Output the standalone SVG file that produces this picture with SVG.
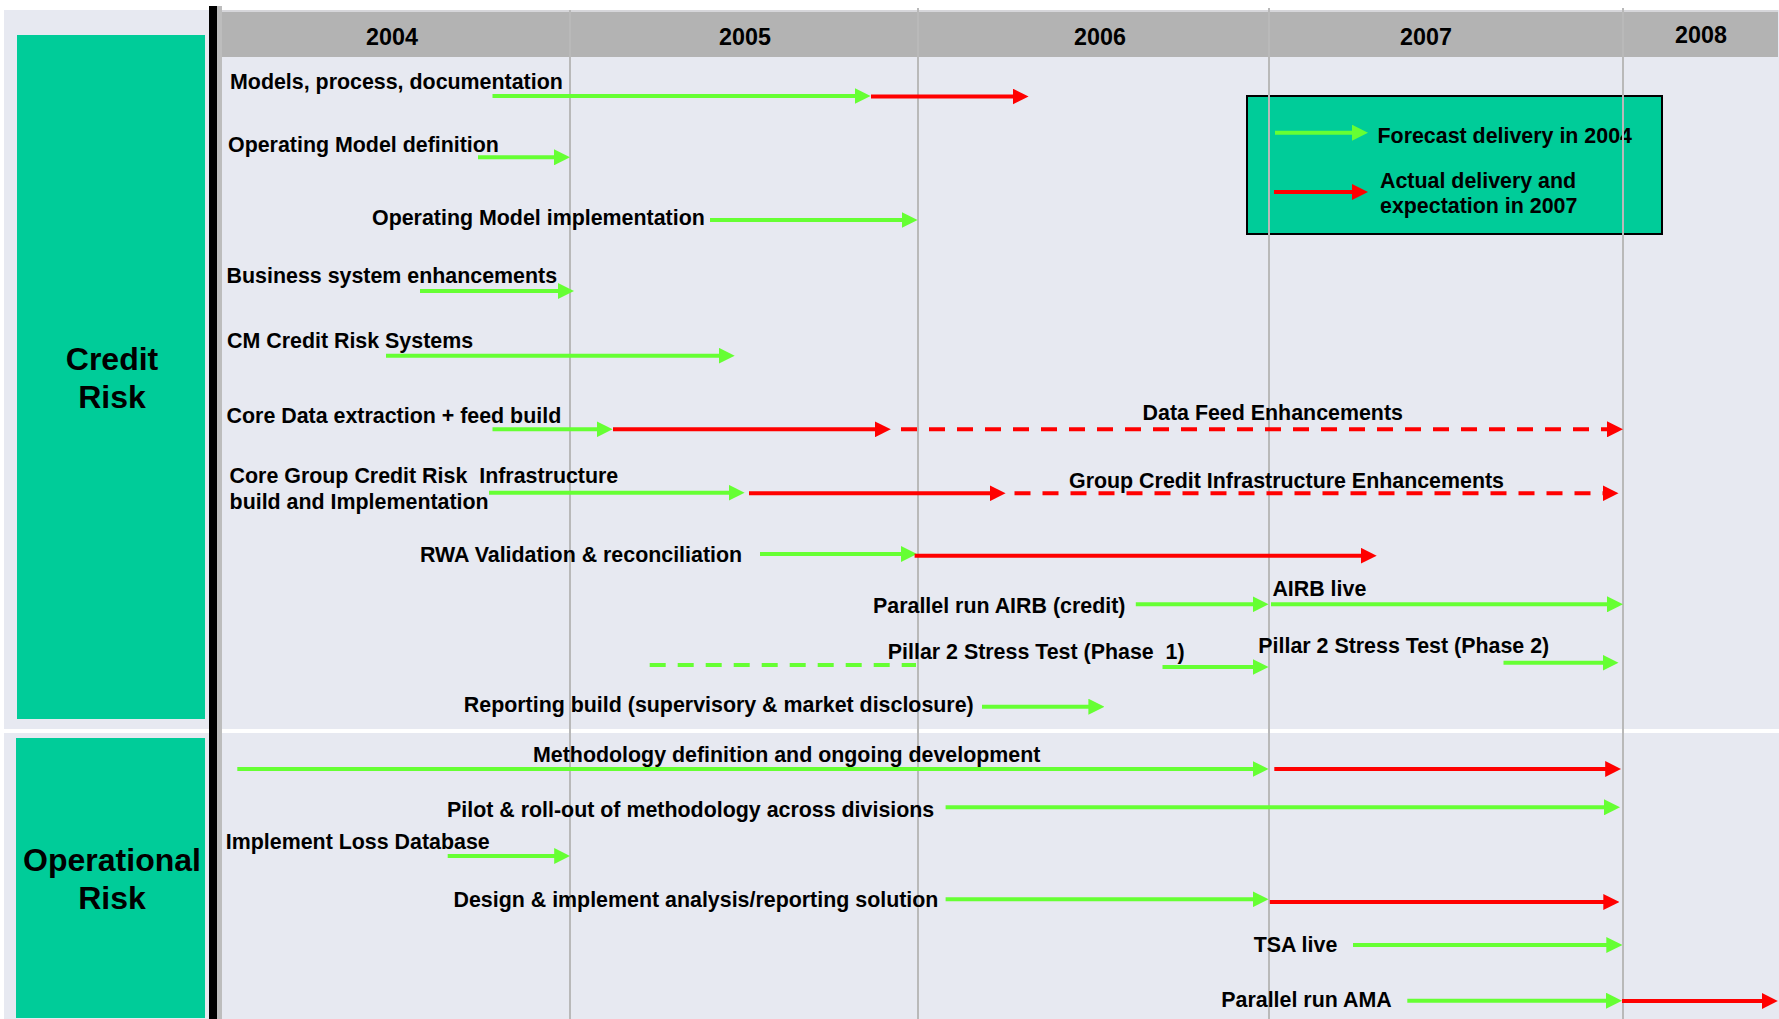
<svg xmlns="http://www.w3.org/2000/svg" width="1779" height="1019" viewBox="0 0 1779 1019">
  <style>
    .t { font-family: "Liberation Sans", Arial, sans-serif; font-weight: bold; fill: #000; }
    .lbl { font-size: 21.4px; white-space: pre; }
    .yr { font-size: 23.3px; text-anchor: middle; }
    .side { font-size: 32px; text-anchor: middle; }
    .grid { stroke: #b9b9b9; stroke-width: 2; }
    .g { stroke: #66ff33; stroke-width: 4; fill: none; }
    .r { stroke: #ff0000; stroke-width: 4; fill: none; }
    .ga { marker-end: url(#headG); }
    .ra { marker-end: url(#headR); }
    .dash { stroke-dasharray: 16 12; }
    .box { fill: #00cc99; }
  </style>
  <defs>
    <marker id="headG" markerUnits="userSpaceOnUse" markerWidth="16" markerHeight="16" viewBox="0 0 16 16" refX="6" refY="8" orient="auto">
      <path d="M0,0 L16,8 L0,16 z" fill="#66ff33"/>
    </marker>
    <marker id="headR" markerUnits="userSpaceOnUse" markerWidth="16" markerHeight="16" viewBox="0 0 16 16" refX="6" refY="8" orient="auto">
      <path d="M0,0 L16,8 L0,16 z" fill="#ff0000"/>
    </marker>
  </defs>

  <!-- page and panels -->
  <rect x="0" y="0" width="1779" height="1019" fill="#ffffff"/>
  <rect x="4" y="10" width="1775" height="1009" fill="#e7e9f1"/>
  <rect x="0" y="729" width="1779" height="4" fill="#ffffff"/>
  <rect x="222" y="10" width="1556" height="2" fill="#d6d6da"/>
  <rect x="222" y="12" width="1556" height="45" fill="#b3b3b3"/>
  <rect x="217" y="6" width="5" height="1013" fill="#bdbdbd"/>
  <rect x="209" y="6" width="8" height="1013" fill="#000000"/>

  <!-- section headers -->
  <g id="credit-risk">
    <rect class="box" x="17" y="35" width="188" height="684"/>
    <text class="t side" x="112" y="370">Credit</text>
    <text class="t side" x="112" y="408">Risk</text>
  </g>
  <g id="operational-risk">
    <rect class="box" x="16" y="738" width="189" height="280"/>
    <text class="t side" x="112" y="871">Operational</text>
    <text class="t side" x="112" y="909">Risk</text>
  </g>

  <!-- year scale -->
  <g id="years">
    <text class="t yr" x="392" y="45">2004</text>
    <text class="t yr" x="745" y="45">2005</text>
    <text class="t yr" x="1100" y="45">2006</text>
    <text class="t yr" x="1426" y="45">2007</text>
    <text class="t yr" x="1701" y="43">2008</text>
  </g>

  <!-- legend -->
  <g id="legend">
    <rect x="1247" y="96" width="415" height="138" fill="#00cc99" stroke="#000" stroke-width="2"/>
    <line class="g ga" x1="1275" y1="132.7" x2="1358" y2="132.7"/>
    <line class="r ra" x1="1274" y1="192" x2="1358" y2="192"/>
    <text class="t lbl" x="1377.5" y="143.3">Forecast delivery in 2004</text>
    <text class="t lbl" x="1380" y="188.3">Actual delivery and</text>
    <text class="t lbl" x="1380" y="213.3">expectation in 2007</text>
  </g>

  <!-- year boundaries -->
  <g id="gridlines">
    <line class="grid" x1="570" y1="10" x2="570" y2="1019"/>
    <line class="grid" x1="918" y1="8" x2="918" y2="1019"/>
    <line class="grid" x1="1269" y1="8" x2="1269" y2="1019"/>
    <line class="grid" x1="1623" y1="8" x2="1623" y2="1019"/>
  </g>

  <!-- work items -->
  <g id="models"><text class="t lbl" x="230" y="89.3">Models, process, documentation</text></g>
  <g id="op-model-def"><text class="t lbl" x="228" y="151.7">Operating Model definition</text></g>
  <g id="op-model-impl"><text class="t lbl" x="372" y="225.3">Operating Model implementation</text></g>
  <g id="business-systems"><text class="t lbl" x="226.6" y="282.7">Business system enhancements</text></g>
  <g id="cm-credit"><text class="t lbl" x="227" y="347.5">CM Credit Risk Systems</text></g>
  <g id="core-data"><text class="t lbl" x="226.6" y="422.7">Core Data extraction + feed build</text></g>
  <g id="data-feed-enh"><text class="t lbl" x="1142.6" y="420">Data Feed Enhancements</text></g>
  <g id="core-group">
    <text class="t lbl" x="229.6" y="483.3">Core Group Credit Risk  Infrastructure</text>
    <text class="t lbl" x="229.6" y="509.3">build and Implementation</text>
  </g>
  <g id="group-infra-enh"><text class="t lbl" x="1069" y="488.3">Group Credit Infrastructure Enhancements</text></g>
  <g id="rwa"><text class="t lbl" x="420" y="561.7">RWA Validation &amp; reconciliation</text></g>
  <g id="parallel-airb"><text class="t lbl" x="873" y="612.7">Parallel run AIRB (credit)</text></g>
  <g id="airb-live"><text class="t lbl" x="1272.4" y="595.7">AIRB live</text></g>
  <g id="pillar2-p1"><text class="t lbl" x="887.8" y="659">Pillar 2 Stress Test (Phase  1)</text></g>
  <g id="pillar2-p2"><text class="t lbl" x="1258.3" y="653.3">Pillar 2 Stress Test (Phase 2)</text></g>
  <g id="reporting"><text class="t lbl" x="463.8" y="711.7">Reporting build (supervisory &amp; market disclosure)</text></g>
  <g id="methodology"><text class="t lbl" x="533" y="761.7">Methodology definition and ongoing development</text></g>
  <g id="pilot"><text class="t lbl" x="447" y="816.7">Pilot &amp; roll-out of methodology across divisions</text></g>
  <g id="loss-db"><text class="t lbl" x="225.8" y="849.3">Implement Loss Database</text></g>
  <g id="design-impl"><text class="t lbl" x="453.5" y="906.7">Design &amp; implement analysis/reporting solution</text></g>
  <g id="tsa-live"><text class="t lbl" x="1253.7" y="952.3">TSA live</text></g>
  <g id="parallel-ama"><text class="t lbl" x="1221.3" y="1007.3">Parallel run AMA</text></g>

  <!-- timeline arrows -->
  <g id="connectors">
    <line class="g ga" x1="492.5" y1="96" x2="860.6" y2="96"/>
    <line class="r ra" x1="871" y1="96.5" x2="1018.6" y2="96.5"/>

    <line class="g ga" x1="478" y1="157.3" x2="560" y2="157.3"/>
    <line class="g ga" x1="710" y1="220" x2="907.6" y2="220"/>
    <line class="g ga" x1="420" y1="291" x2="564" y2="291"/>
    <line class="g ga" x1="386" y1="355.7" x2="724.7" y2="355.7"/>

    <line class="g ga" x1="492.5" y1="429.3" x2="602.6" y2="429.3"/>
    <line class="r ra" x1="613" y1="429.3" x2="880.8" y2="429.3"/>
    <line class="r ra dash" x1="901" y1="429.3" x2="1613" y2="429.3"/>

    <line class="g ga" x1="489" y1="492.7" x2="734.6" y2="492.7"/>
    <line class="r ra" x1="749" y1="493.3" x2="995.6" y2="493.3"/>
    <line class="r ra dash" x1="1014.5" y1="493.3" x2="1608.5" y2="493.3"/>

    <line class="g ga" x1="760" y1="554" x2="907" y2="554"/>
    <line class="r ra" x1="914.6" y1="555.7" x2="1366.7" y2="555.7"/>

    <line class="g ga" x1="1135.8" y1="604.3" x2="1258.6" y2="604.3"/>
    <line class="g ga" x1="1271" y1="604.3" x2="1613" y2="604.3"/>

    <line class="g dash" x1="649.7" y1="665" x2="916" y2="665"/>
    <line class="g ga" x1="1162.5" y1="667" x2="1258.6" y2="667"/>
    <line class="g ga" x1="1503.5" y1="662.7" x2="1608.5" y2="662.7"/>

    <line class="g ga" x1="982" y1="706.7" x2="1094.4" y2="706.7"/>

    <line class="g ga" x1="237.3" y1="769" x2="1258.6" y2="769"/>
    <line class="r ra" x1="1274.3" y1="769" x2="1611.2" y2="769"/>

    <line class="g ga" x1="945.6" y1="807.3" x2="1610" y2="807.3"/>
    <line class="g ga" x1="447.7" y1="856" x2="560.2" y2="856"/>

    <line class="g ga" x1="945.6" y1="899.3" x2="1258.6" y2="899.3"/>
    <line class="r ra" x1="1269.8" y1="902" x2="1609.3" y2="902"/>

    <line class="g ga" x1="1353" y1="945" x2="1612.3" y2="945"/>
    <line class="g ga" x1="1407.3" y1="1000.7" x2="1612" y2="1000.7"/>
    <line class="r ra" x1="1622" y1="1001" x2="1767.8" y2="1001"/>
  </g>
</svg>
